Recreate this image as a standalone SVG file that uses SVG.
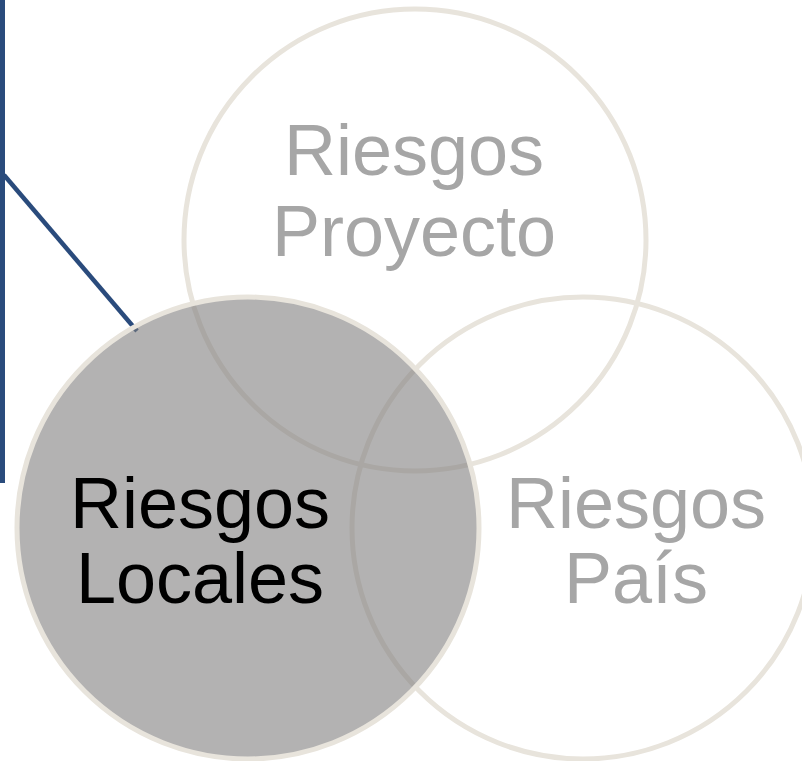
<svg xmlns="http://www.w3.org/2000/svg" width="802" height="761" viewBox="0 0 802 761">
<style>
.ring{fill:none;stroke:#E8E4DC;stroke-width:5}
.lbl{font-family:"Liberation Sans",Arial,sans-serif;font-size:72px;text-anchor:middle;fill:#A6A6A6}
.dark{fill:#000000}
.conn{stroke:#2A4B7C;fill:none}
</style>
<rect width="802" height="761" fill="#FFFFFF"/>
<g id="connectors">
<line class="conn" x1="2.5" y1="0" x2="2.5" y2="483" stroke-width="5"/>
<line class="conn" x1="4" y1="175" x2="137" y2="331" stroke-width="4.5"/>
</g>
<g id="node-pais">
<circle class="ring" cx="583" cy="528" r="231"/>
<text class="lbl" x="636" y="528">Riesgos</text>
<text class="lbl" x="636" y="603">País</text>
</g>
<g id="node-proyecto">
<circle class="ring" cx="415" cy="240" r="231"/>
<text class="lbl" x="414" y="175">Riesgos</text>
<text class="lbl" x="414" y="256">Proyecto</text>
</g>
<g id="node-locales">
<circle cx="248" cy="528" r="231" fill="#807F7E" fill-opacity="0.6"/>
<circle class="ring" cx="248" cy="528" r="231"/>
<text class="lbl dark" x="200" y="528">Riesgos</text>
<text class="lbl dark" x="200" y="603">Locales</text>
</g>
</svg>
